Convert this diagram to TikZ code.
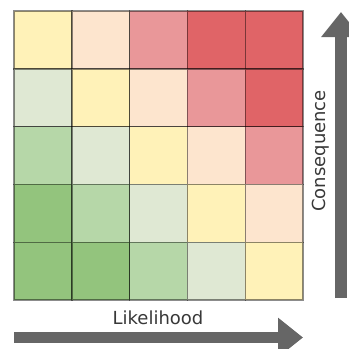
\documentclass[tikz,border=0pt]{standalone}
\usepackage{fontspec}
\setmainfont{DejaVu Sans}
\usetikzlibrary{positioning, arrows.meta}
\definecolor{riskyellow}{HTML}{FFF2B8}
\definecolor{riskpeach}{HTML}{FDE5CE}
\definecolor{riskpink}{HTML}{E99799}
\definecolor{riskred}{HTML}{E06467}
\definecolor{risklgreen}{HTML}{DFE8D3}
\definecolor{riskmgreen}{HTML}{B6D7A8}
\definecolor{riskgreen}{HTML}{93C47D}
\definecolor{axisgray}{HTML}{666666}
\tikzset{
    x=1pt, y=1pt,
    cell/.style={draw=black, draw opacity=0.45, line width=1.4pt, minimum size=57.8pt, inner sep=0pt, outer sep=0pt}, % one square of the matrix
    axis/.style={draw=axisgray, line width=11.5pt, -{Triangle[length=25pt, width=38pt]}}, % thick grey axis arrow
    axislabel/.style={text=black!78, font=\fontsize{18}{21}\selectfont, inner sep=0pt},
}
\begin{document}
\begin{tikzpicture}
    \useasboundingbox (0,0) rectangle (349,-349);
    \foreach \row/\colors in {1/{riskyellow,riskpeach,riskpink,riskred,riskred},
                              2/{risklgreen,riskyellow,riskpeach,riskpink,riskred},
                              3/{riskmgreen,risklgreen,riskyellow,riskpeach,riskpink},
                              4/{riskgreen,riskmgreen,risklgreen,riskyellow,riskpeach},
                              5/{riskgreen,riskgreen,riskmgreen,risklgreen,riskyellow}}
        \foreach \fillc [count=\col] in \colors
            \node[cell, fill=\fillc] (c\row\col) at ({14+57.8*(\col-0.5)}, {-11-57.8*(\row-0.5)}) {};
    \coordinate (hstart) at (14,-337.5);
    \coordinate (hend) at (303,-337.5);
    \coordinate (vstart) at (341,-298);
    \coordinate (vend) at (341,-12);
    \draw[axis] (hstart) -- (hend);
    \draw[axis] (vstart) -- (vend);
    \node[axislabel] (likelihood) at (158,-318) {Likelihood};
    \node[axislabel, rotate=90] (consequence) at (321,-151) {Consequence};
\end{tikzpicture}
\end{document}
